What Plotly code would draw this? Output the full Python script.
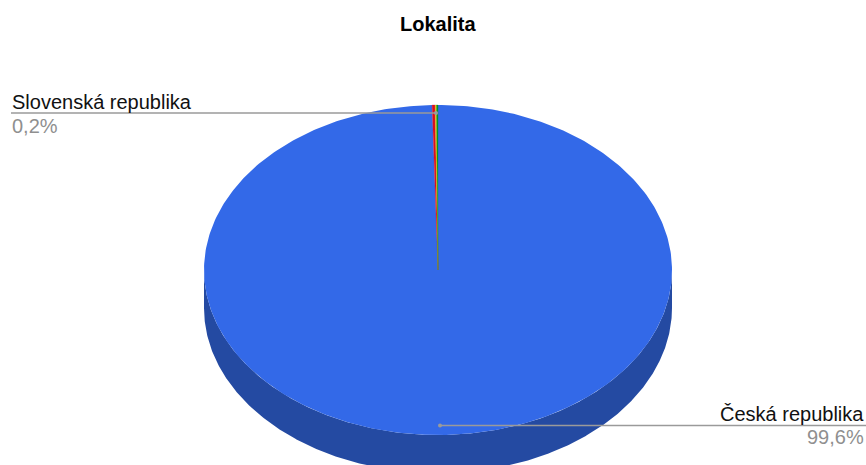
import numpy as np
import plotly.graph_objects as go

title = "Lokalita"
categories = ["Česká republika", "Slovenská republika", "Ostatní A", "Ostatní B"]
shares = [99.6, 0.2, 0.1, 0.1]
top_colors = ["#3369e8", "#d50f25", "#eeb211", "#009925"]
side_colors = ["#244aa2", "#95091a", "#a67c0c", "#006b1a"]
outline_widths = [0, 0.3, 0.3, 0.3]
value_labels = {"Česká republika": "99,6%", "Slovenská republika": "0,2%"}

# Pie geometry in page pixels
cx, cy, rx, ry, depth = 438.0, 270.0, 234.0, 165.0, 38.0


def rim(a0, a1, n=400):
    """Ellipse rim between two clockwise angles measured from 12 o'clock."""
    t = np.linspace(a0, a1, n)
    return cx + rx * np.sin(t), cy - ry * np.cos(t)


fig = go.Figure()

fractions = np.array(shares) / sum(shares)
edges = np.concatenate([[0.0], np.cumsum(fractions)]) * 2 * np.pi

# Extruded front wall: only the part of each slice between 3 and 9 o'clock shows
for i, color in enumerate(side_colors):
    a0 = max(edges[i], np.pi / 2)
    a1 = min(edges[i + 1], 3 * np.pi / 2)
    if a1 <= a0:
        continue
    x, y = rim(a0, a1)
    fig.add_trace(go.Scatter(
        x=np.concatenate([x, x[::-1]]),
        y=np.concatenate([y, y[::-1] + depth]),
        mode="lines", fill="toself", fillcolor=color,
        line=dict(width=0), hoverinfo="skip",
    ))

# Top face; the narrow slices get a hairline outline so they stay legible
for i, color in enumerate(top_colors):
    x, y = rim(edges[i], edges[i + 1])
    fig.add_trace(go.Scatter(
        x=np.concatenate([[cx], x, [cx]]),
        y=np.concatenate([[cy], y, [cy]]),
        mode="lines", fill="toself", fillcolor=color,
        line=dict(width=outline_widths[i], color=color),
        name=categories[i], hoverinfo="name",
    ))

# Leader lines
leaders = [
    ([11, 436], [113, 113]),
    ([440, 866], [425.5, 425.5]),
]
for lx, ly in leaders:
    fig.add_trace(go.Scatter(
        x=lx, y=ly, mode="lines",
        line=dict(color="#9a9a9a", width=1.3), hoverinfo="skip",
    ))
fig.add_trace(go.Scatter(
    x=[436, 440], y=[113, 425.5], mode="markers",
    marker=dict(color="#9a9a9a", size=4), hoverinfo="skip",
))


def label(x, y, text, color, anchor):
    fig.add_annotation(
        x=x, y=y, text=text, showarrow=False, xanchor=anchor, yanchor="middle",
        xref="x", yref="y", align=anchor,
        font=dict(family="Liberation Sans", size=20, color=color),
    )


label(10, 102, "Slovenská republika", "#111111", "left")
label(10, 126, value_labels["Slovenská republika"], "#8f8f8f", "left")
label(866, 414, "Česká republika", "#111111", "right")
label(866, 437, value_labels["Česká republika"], "#8f8f8f", "right")

fig.add_annotation(
    x=437.5, y=24, text=f"<b>{title}</b>", showarrow=False,
    xref="x", yref="y", yanchor="middle",
    font=dict(family="Liberation Sans", size=20, color="#000000"),
)

fig.update_layout(
    width=866, height=465, margin=dict(l=0, r=0, t=0, b=0),
    paper_bgcolor="white", plot_bgcolor="white", showlegend=False,
    xaxis=dict(range=[0, 866], visible=False, fixedrange=True),
    yaxis=dict(range=[465, 0], visible=False, fixedrange=True),
)
fig.write_html("out.html", config=dict(displayModeBar=False))
